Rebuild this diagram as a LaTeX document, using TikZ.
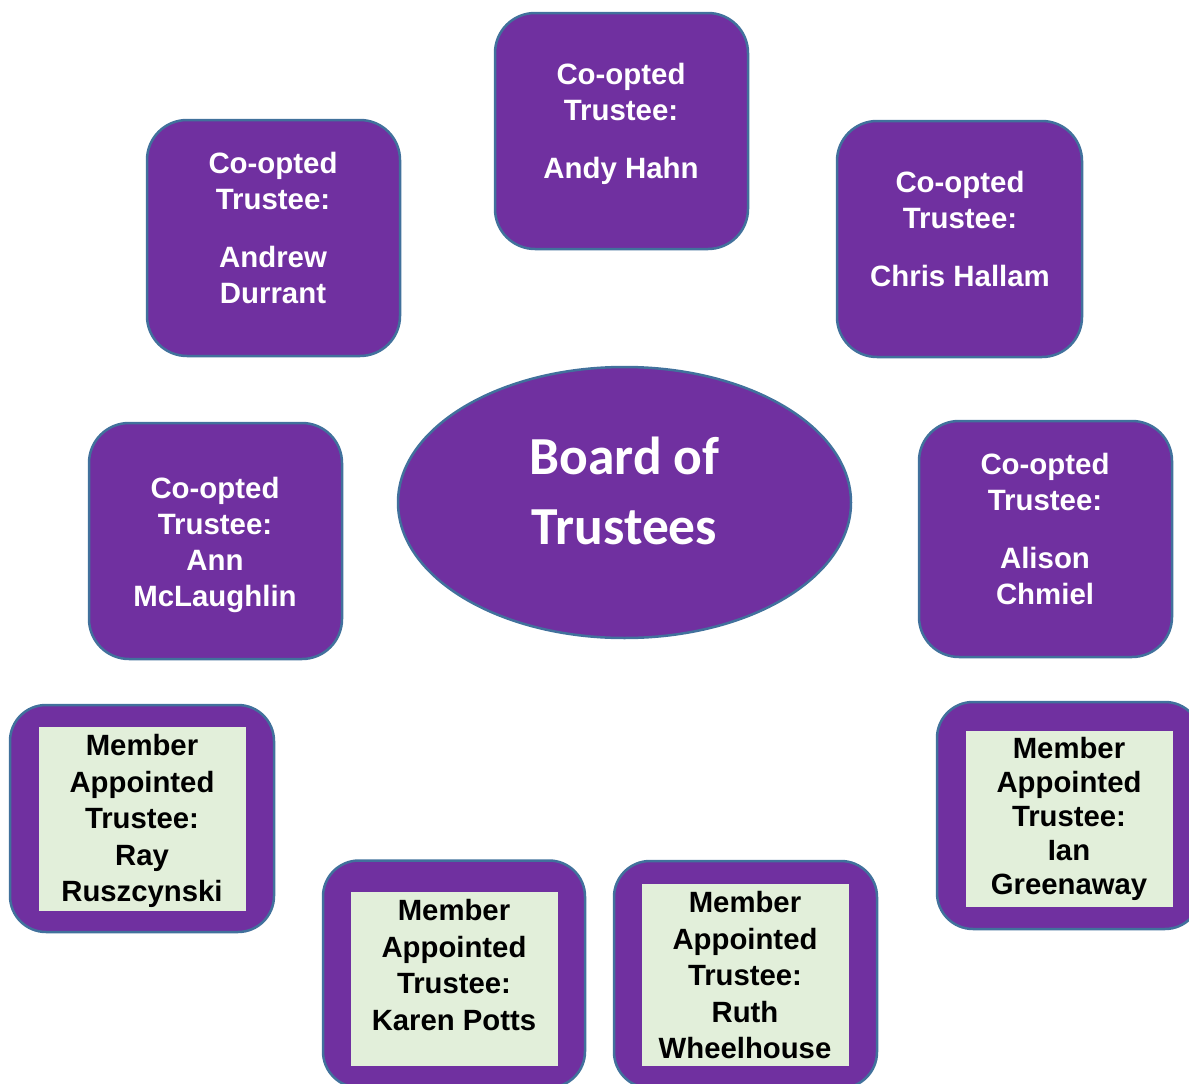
\documentclass[tikz,border=0pt]{standalone}
\usepackage{fontspec}
\setmainfont{Liberation Sans}
\newfontfamily\calibfont{Carlito}
\usetikzlibrary{shapes.geometric}
\definecolor{tpurple}{HTML}{7030A0}
\definecolor{tborder}{HTML}{41719C}
\definecolor{tgreen}{HTML}{E2EFDA}
\tikzset{
  coopbox/.style={draw=tborder, line width=2.5pt, fill=tpurple, rounded corners=40pt, minimum width=253pt, minimum height=236pt, inner sep=0pt},
  membox/.style={draw=tborder, line width=2.5pt, fill=tpurple, rounded corners=36pt, minimum width=264pt, minimum height=227pt, inner sep=0pt},
  inbox/.style={fill=tgreen, inner sep=0pt, minimum width=207pt},
  cooptext/.style={text=white, align=center, anchor=north, inner sep=0pt, font=\fontsize{29.4}{36}\selectfont\bfseries},
  memtext/.style={text=black, align=center, anchor=north, inner sep=0pt, font=\fontsize{29.3}{36.5}\selectfont\bfseries},
  boardstyle/.style={ellipse, draw=tborder, line width=2.5pt, fill=tpurple, minimum width=453pt, minimum height=271pt, inner sep=0pt}
}
\begin{document}
\begin{tikzpicture}[x=1pt,y=-1pt]
\useasboundingbox (0,0) rectangle (1189,1084);
% co-opted boxes
\node[coopbox] (andy) at (621.5,131) {};
\node[coopbox] (andrew) at (273.5,238) {};
\node[coopbox, minimum width=245pt] (chris) at (959.5,239) {};
\node[coopbox] (ann) at (215.5,541) {};
\node[coopbox] (alison) at (1045.5,539) {};
\node[cooptext] (andyT) at (621,62.5) {Co-opted\\Trustee:\\[22pt]Andy Hahn};
\node[cooptext] (andrewT) at (273,151.5) {Co-opted\\Trustee:\\[22pt]Andrew\\Durrant};
\node[cooptext] (chrisT) at (960,170.5) {Co-opted\\Trustee:\\[22pt]Chris Hallam};
\node[cooptext] (annT) at (215,476.5) {Co-opted\\Trustee:\\Ann\\McLaughlin};
\node[cooptext] (alisonT) at (1045,452.5) {Co-opted\\Trustee:\\[22pt]Alison\\Chmiel};
% board
\node[boardstyle] (board) at (624.5,502.5) {};
\node[text=white, align=center, inner sep=0pt, font=\fontsize{53.5}{70}\selectfont\calibfont\bfseries] (boardT) at (624.5,491) {Board of\\Trustees};
% member boxes
\node[membox] (ray) at (142,818.5) {};
\node[membox, minimum width=262pt] (karen) at (454,974) {};
\node[membox, minimum width=263pt] (ruth) at (745.5,974.5) {};
\node[membox] (ian) at (1069,815.5) {};
\node[inbox, minimum height=184pt] (rayI) at (142.5,819) {};
\node[inbox, minimum height=174pt] (karenI) at (454.5,979) {};
\node[inbox, minimum height=182pt] (ruthI) at (745.5,975) {};
\node[inbox, minimum height=176pt] (ianI) at (1069.5,819) {};
\node[memtext] (rayT) at (142,734.5) {Member\\Appointed\\Trustee:\\Ray\\Ruszcynski};
\node[memtext] (karenT) at (454,899.5) {Member\\Appointed\\Trustee:\\Karen Potts};
\node[memtext] (ruthT) at (745,891.5) {Member\\Appointed\\Trustee:\\Ruth\\Wheelhouse};
\node[memtext, font=\fontsize{29.3}{34}\selectfont\bfseries] (ianT) at (1069,737.5) {Member\\Appointed\\Trustee:\\Ian\\Greenaway};
\end{tikzpicture}
\end{document}
